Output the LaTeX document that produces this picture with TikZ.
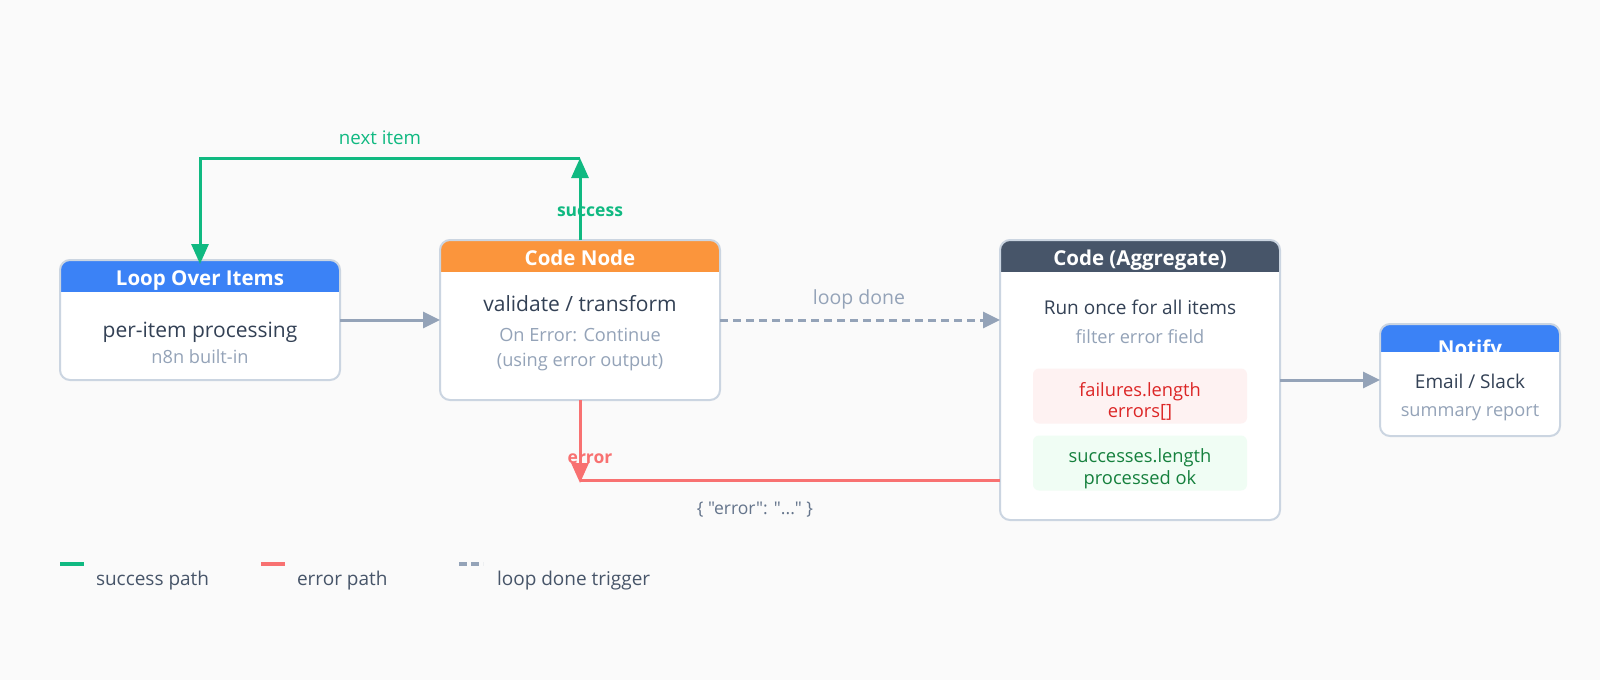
\documentclass[tikz,border=0pt]{standalone}
\usepackage{fontspec}
\setmainfont{Open Sans}
\newfontfamily\jsonfont{Open Sans}[Ligatures=TeXOff]
\usetikzlibrary{arrows.meta}
\definecolor{bgc}{HTML}{FAFAFA}
\definecolor{borderc}{HTML}{CBD5E1}
\definecolor{bluec}{HTML}{3B82F6}
\definecolor{orangec}{HTML}{FB953C}
\definecolor{darkc}{HTML}{475569}
\definecolor{bodyc}{HTML}{334155}
\definecolor{subc}{HTML}{94A3B8}
\definecolor{arrowc}{HTML}{94A3B8}
\definecolor{greenc}{HTML}{10B981}
\definecolor{redc}{HTML}{F87171}
\definecolor{failtxt}{HTML}{DC2626}
\definecolor{failbg}{HTML}{FEF2F2}
\definecolor{oktxt}{HTML}{15803D}
\definecolor{okbg}{HTML}{F0FDF4}
\definecolor{jsonc}{HTML}{64748B}
\definecolor{legc}{HTML}{475569}
\tikzset{
  txt/.style={inner sep=0pt, outer sep=0pt, text height=0.75em, text depth=0.25em, yshift=-4.5pt},
  boxshape/.style={rectangle, rounded corners=10pt, fill=white, inner sep=0pt, outer sep=0pt},
  boxborder/.style={draw=borderc, line width=2pt, rounded corners=10pt},
  ttl/.style={txt, font=\fontsize{20.5}{24}\selectfont\bfseries, text=white},
  bodyA/.style={txt, font=\fontsize{21}{25}\selectfont, text=bodyc},
  bodyB/.style={txt, font=\fontsize{19}{23}\selectfont, text=bodyc},
  subt/.style={txt, font=\fontsize{18.2}{22}\selectfont, text=subc},
  inner/.style={txt, font=\fontsize{18.3}{22}\selectfont},
  lbl/.style={txt, font=\fontsize{18.7}{22}\selectfont},
  blbl/.style={txt, font=\fontsize{17.5}{21}\selectfont\bfseries},
  legt/.style={txt, font=\fontsize{19}{23}\selectfont, text=legc, anchor=west},
  tip/.style={-{Triangle[length=20pt, width=17pt]}},
  gtip/.style={-{Triangle[length=17pt, width=16pt]}},
  grayline/.style={draw=arrowc, line width=3pt, gtip},
  dashline/.style={draw=arrowc, line width=3pt, dash pattern=on 8pt off 5pt, gtip},
  greenline/.style={draw=greenc, line width=3pt},
  redline/.style={draw=redc, line width=3pt},
  pill/.style={rectangle, rounded corners=6pt, inner sep=0pt, outer sep=0pt, minimum width=214pt, minimum height=55pt},
}
\newcommand{\flowbox}[7]{%
  \node[boxshape, minimum width=#4pt, minimum height=#5pt] (#1) at (#2,#3) {};
  \begin{scope}
    \clip[rounded corners=10pt] (#1.south west) rectangle (#1.north east);
    \fill[#7] (#1.north west) rectangle ([yshift=-#6pt]#1.north east);
  \end{scope}
  \draw[boxborder] (#1.south west) rectangle (#1.north east);
}
\begin{document}
\begin{tikzpicture}[x=1pt,y=-1pt]
\fill[bgc] (0,0) rectangle (1600,680);
\useasboundingbox (0,0) rectangle (1600,680);

% boxes
\flowbox{loop}{200}{320}{280}{120}{32}{bluec}
\node[ttl] (loopT) at ([yshift=-18pt]loop.north) {Loop Over Items};
\node[bodyA] (loopA) at (200,330) {per-item processing};
\node[subt] (loopB) at (200,356) {n8n built-in};

\flowbox{code}{580}{320}{280}{160}{32}{orangec}
\node[ttl] (codeT) at ([yshift=-18pt]code.north) {Code Node};
\node[bodyA] (codeA) at (580,304) {validate / transform};
\node[subt] (codeB) at (580,334) {On Error: Continue};
\node[subt] (codeC) at (580,359) {(using error output)};

\flowbox{agg}{1140}{380}{280}{280}{32}{darkc}
\node[ttl] (aggT) at ([yshift=-18pt]agg.north) {Code (Aggregate)};
\node[bodyB] (aggA) at (1140,307) {Run once for all items};
\node[subt] (aggB) at (1140,336) {filter error field};
\node[pill, fill=failbg] (fail) at (1140,396) {};
\node[inner, text=failtxt] (failA) at (1140,389) {failures.length};
\node[inner, text=failtxt] (failB) at (1140,410) {errors[]};
\node[pill, fill=okbg] (ok) at (1140,463) {};
\node[inner, text=oktxt] (okA) at (1140,455) {successes.length};
\node[inner, text=oktxt] (okB) at (1140,477) {processed ok};

\node[boxshape, minimum width=180pt, minimum height=112pt] (notify) at (1470,380) {};
\begin{scope}
  \clip[rounded corners=10pt] (notify.south west) rectangle (notify.north east);
  \clip (notify.north west) rectangle ([yshift=-28pt]notify.north east);
  \fill[bluec] (notify.north west) rectangle ([yshift=-28pt]notify.north east);
  \node[ttl] (notifyT) at ([yshift=-24pt]notify.north) {Notify};
\end{scope}
\draw[boxborder] (notify.south west) rectangle (notify.north east);
\node[bodyB] (notifyA) at (1470,381) {Email / Slack};
\node[subt] (notifyB) at (1470,409) {summary report};

% connectors
\draw[grayline] (loop) -- (code);
\draw[dashline] (code.east) -- (code.east -| agg.west);
\node[lbl, text=subc, font=\fontsize{19.5}{23}\selectfont] (doneL) at (859,297) {loop done};
\draw[grayline] (agg) -- (notify);

% success path
\coordinate (sTop) at (580,158);
\draw[greenline, tip] (code.north) -- (sTop);
\draw[greenline, tip, shorten >=-4pt] (sTop) -| (loop.north);
\node[lbl, text=greenc] (nextL) at (380,137) {next item};
\node[blbl, text=greenc] (succL) at (590,209) {success};

% error path
\coordinate (eBot) at (580,483);
\draw[redline] (agg.west |- 0,480) -- (580,480);
\draw[redline, tip] (code.south) -- (eBot);
\node[blbl, text=redc] (errL) at (590,456) {error};
\node[lbl, text=jsonc, font=\jsonfont\fontsize{17.5}{21}\selectfont] (jsonL) at (755,507) {\{ "error": "..." \}};

% legend
\draw[greenc, line width=4pt] (60,564) -- (84,564);
\node[legt] (legA) at (96,578) {success path};
\draw[redc, line width=4pt] (261,564) -- (285,564);
\node[legt] (legB) at (297,578) {error path};
\draw[arrowc, line width=4pt, dash pattern=on 8pt off 4pt] (459,564) -- (483,564);
\node[legt] (legC) at (497,578) {loop done trigger};
\end{tikzpicture}
\end{document}
